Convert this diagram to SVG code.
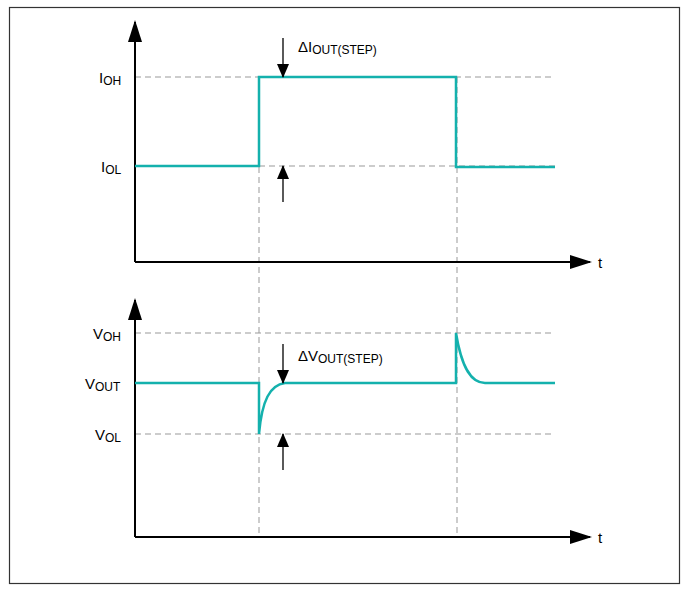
<svg xmlns="http://www.w3.org/2000/svg" width="687" height="590" viewBox="0 0 687 590">
<style>
.ax{stroke:#000;stroke-width:2;fill:none}
.d{stroke:#999;stroke-width:1;stroke-dasharray:6,4;fill:none}
.w{stroke:#14b1ad;stroke-width:2.5;fill:none}
.a{stroke:#000;stroke-width:1.3}
text{font-family:"Liberation Sans",Arial,sans-serif;font-size:15px;fill:#000}
.s{font-size:12px}
</style>
<defs>
<marker id="ah" markerWidth="14" markerHeight="12" refX="13" refY="6" orient="auto" markerUnits="userSpaceOnUse"><path d="M0,0 L14,6 L0,12Z" fill="#000"/></marker>
<marker id="big" markerWidth="22" markerHeight="14" refX="20" refY="7" orient="auto" markerUnits="userSpaceOnUse"><path d="M0,0 L22,7 L0,14Z" fill="#000"/></marker>
</defs>
<rect x="9.5" y="7.5" width="670" height="576" fill="#fff" stroke="#333" stroke-width="1.2"/>
<g id="guides">
<path class="d" d="M135,77H555M259,166H555M135,333H555M135,434H555M259,77V537M457,77V537"/>
</g>
<g id="axes">
<path class="ax" d="M135,262V22" marker-end="url(#big)"/>
<path class="ax" d="M135,262H590" marker-end="url(#big)"/>
<path class="ax" d="M135,537V300" marker-end="url(#big)"/>
<path class="ax" d="M135,537H590" marker-end="url(#big)"/>
</g>
<g id="waves">
<path class="w" d="M135,166H259V77H456V167H555"/>
<path class="w" d="M135,383H259V434C262,400 270,385 285,383H456V333C462,370 472,383 485,383H555"/>
</g>
<g id="connectors">
<path class="a" d="M283,38V77" marker-end="url(#ah)"/>
<path class="a" d="M283,202V166" marker-end="url(#ah)"/>
<path class="a" d="M283,344V383" marker-end="url(#ah)"/>
<path class="a" d="M283,470V434" marker-end="url(#ah)"/>
</g>
<g id="labels">
<text x="99" y="83">I<tspan class="s" dy="2">OH</tspan></text>
<text x="101" y="172">I<tspan class="s" dy="2">OL</tspan></text>
<text x="93" y="339">V<tspan class="s" dy="2">OH</tspan></text>
<text x="85" y="389">V<tspan class="s" dy="2">OUT</tspan></text>
<text x="95" y="440">V<tspan class="s" dy="2">OL</tspan></text>
<text x="298" y="52">ΔI<tspan class="s" dy="2">OUT(STEP)</tspan></text>
<text x="298" y="361">ΔV<tspan class="s" dy="2">OUT(STEP)</tspan></text>
<text x="598" y="268">t</text>
<text x="598" y="543">t</text>
</g>
</svg>
